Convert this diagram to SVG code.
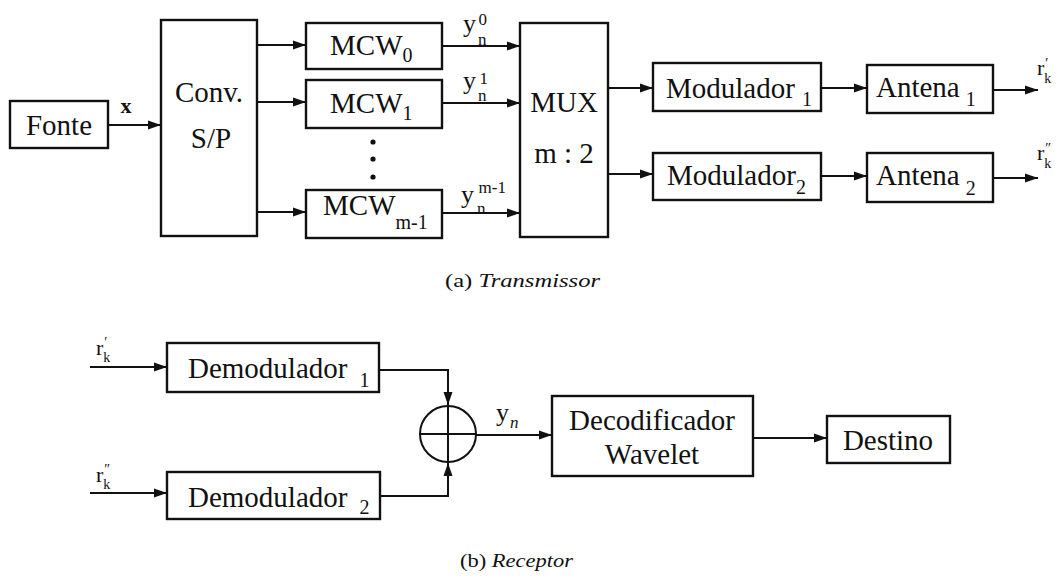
<svg xmlns="http://www.w3.org/2000/svg" width="1060" height="581" viewBox="0 0 1060 581" font-family="Liberation Serif, Times New Roman, serif">
<defs>
<style>
.box{fill:none;stroke:#111;stroke-width:2.4}
.ln{fill:none;stroke:#111;stroke-width:2}
text{fill:#111}
.t{font-size:29px}
.c{text-anchor:middle}
.s{font-size:20px}
.lab{font-size:26px}
.sm{font-size:17px}
.cap{font-size:19px}
</style>
<marker id="ar" markerUnits="userSpaceOnUse" markerWidth="13" markerHeight="10" refX="13" refY="5" orient="auto">
<path d="M0,0.5 L13,5 L0,9.5 z" fill="#111"/>
</marker>
</defs>
<rect width="1060" height="581" fill="#fff"/>

<g id="connectors">
<line class="ln" x1="108" y1="125" x2="161" y2="125" marker-end="url(#ar)"/>
<line class="ln" x1="257" y1="45" x2="306" y2="45" marker-end="url(#ar)"/>
<line class="ln" x1="257" y1="102" x2="306" y2="102" marker-end="url(#ar)"/>
<line class="ln" x1="257" y1="212" x2="306" y2="212" marker-end="url(#ar)"/>
<line class="ln" x1="442" y1="46" x2="520" y2="46" marker-end="url(#ar)"/>
<line class="ln" x1="442" y1="103" x2="520" y2="103" marker-end="url(#ar)"/>
<line class="ln" x1="442" y1="213" x2="520" y2="213" marker-end="url(#ar)"/>
<line class="ln" x1="608" y1="88" x2="653" y2="88" marker-end="url(#ar)"/>
<line class="ln" x1="608" y1="174" x2="653" y2="174" marker-end="url(#ar)"/>
<line class="ln" x1="821" y1="88" x2="867" y2="88" marker-end="url(#ar)"/>
<line class="ln" x1="821" y1="176" x2="867" y2="176" marker-end="url(#ar)"/>
<line class="ln" x1="993" y1="90" x2="1038" y2="90" marker-end="url(#ar)"/>
<line class="ln" x1="993" y1="178" x2="1038" y2="178" marker-end="url(#ar)"/>
<line class="ln" x1="90" y1="367" x2="167" y2="367" marker-end="url(#ar)"/>
<line class="ln" x1="90" y1="493" x2="167" y2="493" marker-end="url(#ar)"/>
<polyline class="ln" points="379,370 448,370 448,405" marker-end="url(#ar)"/>
<polyline class="ln" points="380,496 448,496 448,463" marker-end="url(#ar)"/>
<line class="ln" x1="476" y1="435" x2="552" y2="435" marker-end="url(#ar)"/>
<line class="ln" x1="753" y1="438" x2="827" y2="438" marker-end="url(#ar)"/>
</g>

<g id="fonte">
<rect class="box" x="10" y="101" width="98" height="47"/>
<text class="t c" x="59" y="135">Fonte</text>
</g>
<text x="126" y="113" font-size="22" font-weight="bold" text-anchor="middle">x</text>

<g id="conv">
<rect class="box" x="161" y="20" width="96" height="216"/>
<text class="t c" x="209" y="102">Conv.</text>
<text class="t c" x="211" y="148">S/P</text>
</g>

<g id="mcw0">
<rect class="box" x="306" y="23" width="136" height="46"/>
<text class="t" x="330" y="55">MCW<tspan class="s" dy="7">0</tspan></text>
</g>
<g id="mcw1">
<rect class="box" x="306" y="80" width="136" height="48"/>
<text class="t" x="330" y="113">MCW<tspan class="s" dy="7">1</tspan></text>
</g>
<g id="dots" fill="#111">
<circle cx="373" cy="142" r="2.6"/>
<circle cx="373" cy="159" r="2.6"/>
<circle cx="373" cy="177" r="2.6"/>
</g>
<g id="mcwm1">
<rect class="box" x="306" y="190" width="136" height="48"/>
<text class="t" x="323" y="215">MCW<tspan class="s" dy="14">m-1</tspan></text>
</g>

<g id="ylabels">
<text class="lab" x="463" y="32">y<tspan class="sm" dx="2" dy="13">n</tspan><tspan class="sm" dx="-8" dy="-20">0</tspan></text>
<text class="lab" x="463" y="89">y<tspan class="sm" dx="2" dy="12">n</tspan><tspan class="sm" dx="-7" dy="-17">1</tspan></text>
<text class="lab" x="461" y="203">y<tspan class="sm" dx="3" dy="11">n</tspan><tspan class="sm" dx="-7" dy="-21">m-1</tspan></text>
</g>

<g id="mux">
<rect class="box" x="520" y="23" width="88" height="214"/>
<text class="t c" x="564" y="112">MUX</text>
<text class="t c" x="564" y="163">m : 2</text>
</g>

<g id="mod1">
<rect class="box" x="653" y="63" width="168" height="48"/>
<text class="t" x="666" y="98">Modulador<tspan class="s" dx="7" dy="8">1</tspan></text>
</g>
<g id="mod2">
<rect class="box" x="653" y="153" width="168" height="47"/>
<text class="t" x="667" y="185">Modulador<tspan class="s" dy="9">2</tspan></text>
</g>
<g id="ant1">
<rect class="box" x="867" y="65" width="126" height="48"/>
<text class="t" x="876" y="97">Antena<tspan class="s" dx="6" dy="9">1</tspan></text>
</g>
<g id="ant2">
<rect class="box" x="867" y="153" width="126" height="49"/>
<text class="t" x="876" y="185">Antena<tspan class="s" dx="6" dy="10">2</tspan></text>
</g>

<g id="rlabels">
<text x="1037" y="75" font-size="22">r<tspan font-size="14" dx="0" dy="8">k</tspan><tspan font-size="14" dx="-6" dy="-15">′</tspan></text>
<text x="1037" y="160" font-size="22">r<tspan font-size="14" dx="0" dy="8">k</tspan><tspan font-size="14" dx="-6" dy="-15">″</tspan></text>
<text x="96" y="355" font-size="22">r<tspan font-size="14" dx="0" dy="7">k</tspan><tspan font-size="14" dx="-6" dy="-15">′</tspan></text>
<text x="96" y="482" font-size="22">r<tspan font-size="14" dx="0" dy="7">k</tspan><tspan font-size="14" dx="-6" dy="-15">″</tspan></text>
</g>

<text class="cap" x="445" y="287" textLength="155" lengthAdjust="spacingAndGlyphs">(a) <tspan font-style="italic">Transmissor</tspan></text>

<g id="demod1">
<rect class="box" x="167" y="343" width="212" height="49"/>
<text class="t" x="188" y="378">Demodulador<tspan class="s" dx="12" dy="9">1</tspan></text>
</g>
<g id="demod2">
<rect class="box" x="167" y="472" width="213" height="47"/>
<text class="t" x="188" y="507">Demodulador<tspan class="s" dx="12" dy="7">2</tspan></text>
</g>

<g id="sum">
<circle cx="448" cy="434" r="28" fill="none" stroke="#111" stroke-width="2"/>
<line class="ln" x1="420" y1="434" x2="476" y2="434"/>
<line class="ln" x1="448" y1="406" x2="448" y2="462"/>
</g>
<text class="lab" x="496" y="421">y<tspan class="sm" dx="1" dy="7" font-style="italic">n</tspan></text>

<g id="decod">
<rect class="box" x="552" y="396" width="201" height="80"/>
<text class="t c" x="652" y="430">Decodificador</text>
<text class="t c" x="652" y="464">Wavelet</text>
</g>
<g id="destino">
<rect class="box" x="827" y="416" width="123" height="47"/>
<text class="t c" x="888" y="450">Destino</text>
</g>

<text class="cap" x="460" y="567" textLength="113" lengthAdjust="spacingAndGlyphs">(b) <tspan font-style="italic">Receptor</tspan></text>
</svg>
